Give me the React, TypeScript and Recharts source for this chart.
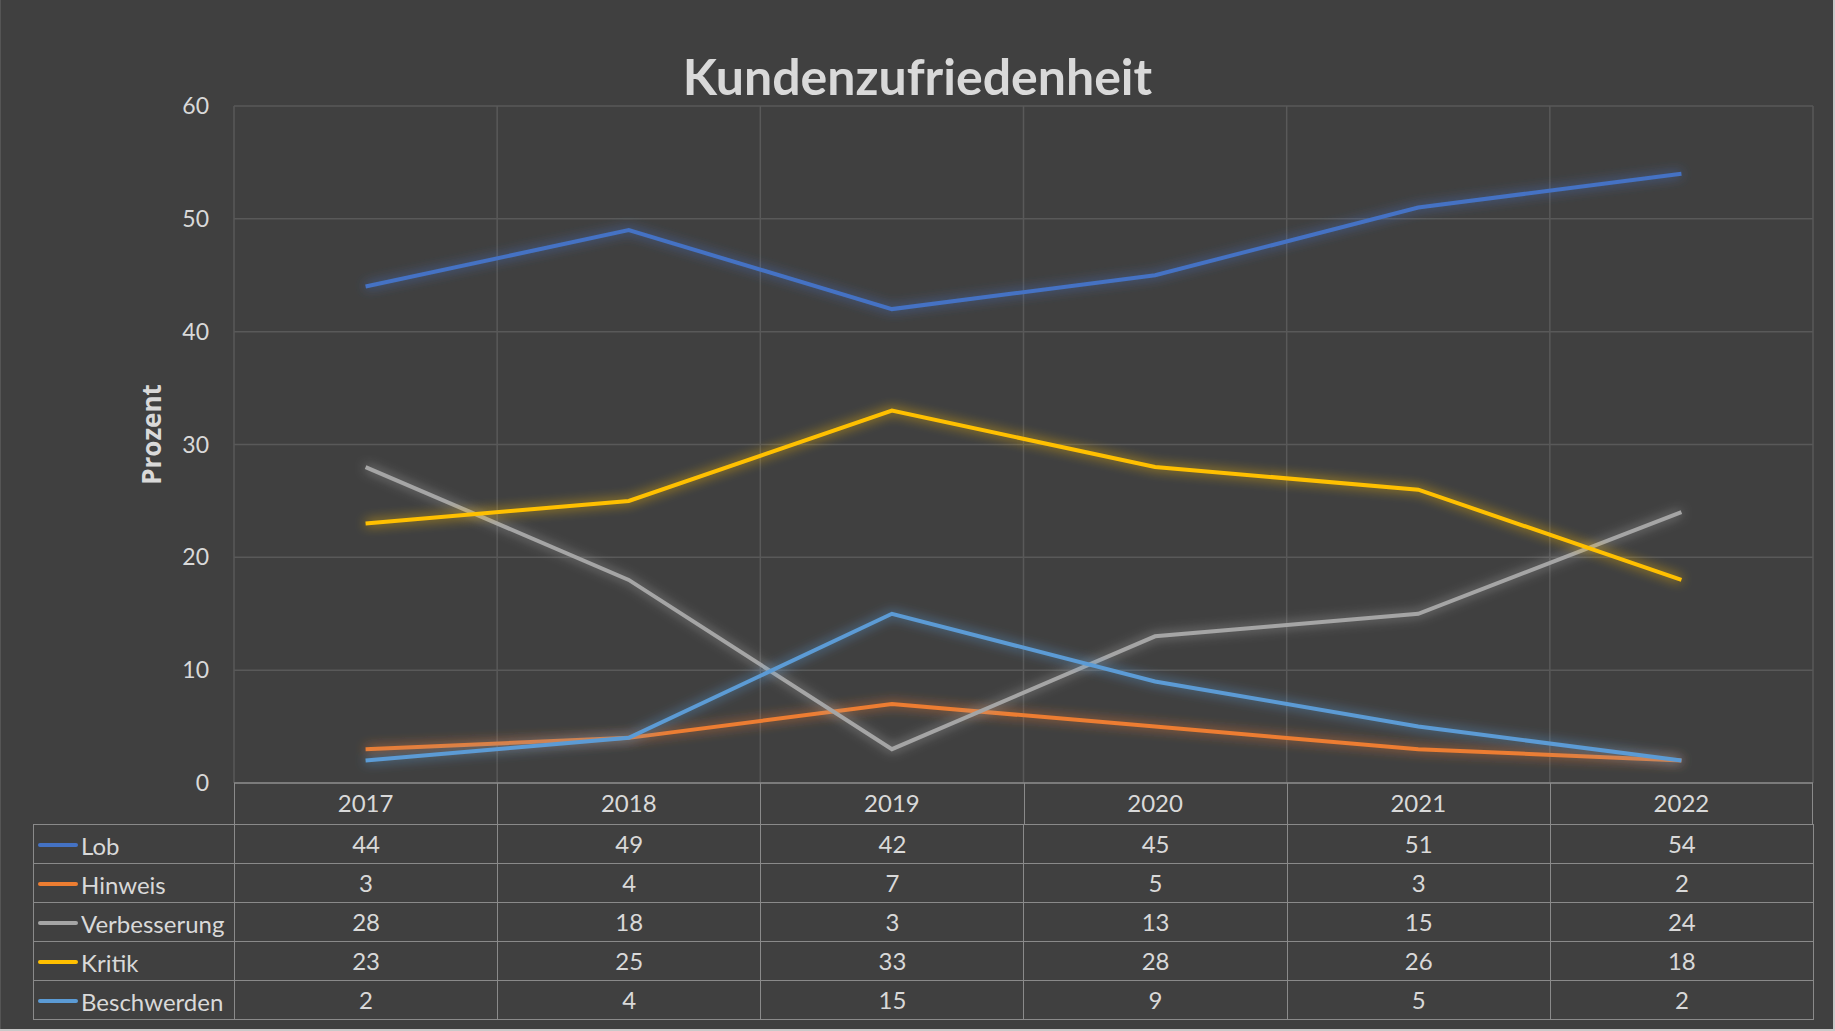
import React from "react";
import {
  CartesianGrid,
  Label,
  Line,
  LineChart,
  XAxis,
  YAxis,
} from "recharts";

const years = ["2017", "2018", "2019", "2020", "2021", "2022"];
const lob = [44, 49, 42, 45, 51, 54];
const hinweis = [3, 4, 7, 5, 3, 2];
const verbesserung = [28, 18, 3, 13, 15, 24];
const kritik = [23, 25, 33, 28, 26, 18];
const beschwerden = [2, 4, 15, 9, 5, 2];
const yTicks = [0, 10, 20, 30, 40, 50, 60];

const series = [
  { key: "Lob", values: lob, color: "#4472C4" },
  { key: "Hinweis", values: hinweis, color: "#ED7D31" },
  { key: "Verbesserung", values: verbesserung, color: "#A5A5A5" },
  { key: "Kritik", values: kritik, color: "#FFC000" },
  { key: "Beschwerden", values: beschwerden, color: "#5B9BD5" },
];

const data = years.map((year, i) => {
  const row: Record<string, string | number> = { year };
  series.forEach((s) => (row[s.key] = s.values[i]));
  return row;
});

const W = 1833;
const H = 1029;
const FONT = "Lato, 'Open Sans', sans-serif";
const TEXT = "#d9d9d9";
const GRID = "#595959";
const BORDER = "#8a8a8a";

// plot box (matches the excel layout)
const PLOT_LEFT = 233;
const PLOT_RIGHT = 1812;
const PLOT_TOP = 106;
const PLOT_BOTTOM = 783;
const HEADER_H = 41;
const ROW_H = 39;
const TABLE_LEFT = 32;
const Y_AXIS_W = 60;

export default function App() {
  const colW = (PLOT_RIGHT - PLOT_LEFT) / years.length;

  return (
    <div
      style={{
        position: "absolute",
        left: 0,
        top: 0,
        width: 1835,
        height: 1031,
        background: "#c9c9c9",
      }}
    >
      <div
        style={{
          position: "absolute",
          left: 0,
          top: 0,
          width: W,
          height: H,
          background: "#404040",
          fontFamily: FONT,
          borderLeft: "1px solid #555",
          boxSizing: "border-box",
        }}
      >
        <div
          style={{
            position: "absolute",
            left: 0,
            width: W,
            top: 46,
            textAlign: "center",
            color: TEXT,
            fontWeight: 700,
            fontSize: 50,
            lineHeight: "60px",
          }}
        >
          Kundenzufriedenheit
        </div>

        <div style={{ position: "absolute", left: 0, top: 0 }}>
          <LineChart
            width={W}
            height={PLOT_BOTTOM + HEADER_H}
            data={data}
            margin={{
              top: PLOT_TOP,
              left: PLOT_LEFT - Y_AXIS_W,
              right: W - PLOT_RIGHT,
              bottom: 0,
            }}
          >
            <defs>
              <filter id="glow" x="-10%" y="-60%" width="120%" height="220%">
                <feGaussianBlur in="SourceGraphic" stdDeviation="6" result="blur" />
                <feComponentTransfer in="blur" result="soft">
                  <feFuncA type="linear" slope="0.9" />
                </feComponentTransfer>
                <feMerge>
                  <feMergeNode in="soft" />
                  <feMergeNode in="SourceGraphic" />
                </feMerge>
              </filter>
            </defs>
            <CartesianGrid
              stroke={GRID}
              strokeWidth={1.5}
              verticalCoordinatesGenerator={({ offset }: any) =>
                years
                  .map((_, i) => offset.left + (offset.width * i) / years.length)
                  .concat(offset.left + offset.width)
              }
            />
            <XAxis
              dataKey="year"
              scale="band"
              height={HEADER_H}
              axisLine={{ stroke: BORDER, strokeWidth: 1.5 }}
              tickLine={false}
              tickSize={0}
              tickMargin={12}
              interval={0}
              tick={{ fill: TEXT, fontSize: 24, fontFamily: FONT }}
            />
            <YAxis
              width={Y_AXIS_W}
              domain={[0, 60]}
              ticks={yTicks}
              axisLine={false}
              tickLine={false}
              tickSize={0}
              tickMargin={25}
              tick={{ fill: TEXT, fontSize: 23, fontFamily: FONT }}
            >
              <Label
                content={({ viewBox }: any) => (
                  <text
                    x={viewBox.x - 23}
                    y={viewBox.y + viewBox.height / 2 - 10}
                    transform={`rotate(-90 ${viewBox.x - 23} ${viewBox.y + viewBox.height / 2 - 10})`}
                    textAnchor="middle"
                    dominantBaseline="central"
                    fill={TEXT}
                    fontWeight={700}
                    fontSize={26}
                    fontFamily="'Open Sans', sans-serif"
                  >
                    Prozent
                  </text>
                )}
              />
            </YAxis>
            {series.map((s) => (
              <Line
                key={s.key}
                dataKey={s.key}
                type="linear"
                stroke={s.color}
                strokeWidth={4}
                dot={false}
                activeDot={false}
                filter="url(#glow)"
                isAnimationActive={false}
              />
            ))}
          </LineChart>
        </div>

        {/* header row cells (borders only, labels come from the XAxis) */}
        {years.map((y, i) => (
          <div
            key={y}
            style={{
              position: "absolute",
              left: PLOT_LEFT + i * colW,
              top: PLOT_BOTTOM,
              width: colW,
              height: HEADER_H,
              borderLeft: `1.5px solid ${BORDER}`,
              borderRight: i === years.length - 1 ? `1.5px solid ${BORDER}` : undefined,
              boxSizing: "border-box",
              pointerEvents: "none",
            }}
          />
        ))}

        {/* data table */}
        <table
          style={{
            position: "absolute",
            left: TABLE_LEFT,
            top: PLOT_BOTTOM + HEADER_H,
            width: PLOT_RIGHT - TABLE_LEFT,
            borderCollapse: "collapse",
            tableLayout: "fixed",
            color: TEXT,
            fontSize: 24,
            fontFamily: FONT,
          }}
        >
          <colgroup>
            <col style={{ width: PLOT_LEFT - TABLE_LEFT }} />
            {years.map((y) => (
              <col key={y} style={{ width: colW }} />
            ))}
          </colgroup>
          <tbody>
            {series.map((s) => (
              <tr key={s.key} style={{ height: ROW_H }}>
                <td
                  style={{
                    border: `1.5px solid ${BORDER}`,
                    padding: "0 0 0 4px",
                    whiteSpace: "nowrap",
                    overflow: "hidden",
                    lineHeight: "34px",
                  }}
                >
                  <span
                    style={{
                      display: "inline-block",
                      width: 40,
                      height: 4,
                      borderRadius: 2,
                      background: s.color,
                      verticalAlign: "middle",
                      marginRight: 3,
                    }}
                  />
                  <span style={{ verticalAlign: "middle" }}>{s.key}</span>
                </td>
                {s.values.map((v, i) => (
                  <td
                    key={i}
                    style={{
                      border: `1.5px solid ${BORDER}`,
                      textAlign: "center",
                      padding: 0,
                      lineHeight: "36px",
                    }}
                  >
                    {v}
                  </td>
                ))}
              </tr>
            ))}
          </tbody>
        </table>
      </div>
    </div>
  );
}
